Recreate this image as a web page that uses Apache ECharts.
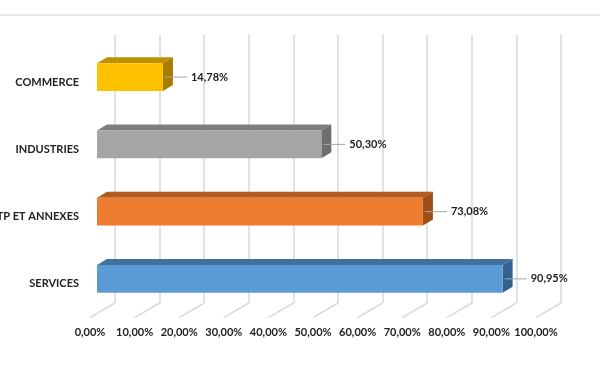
<!DOCTYPE html>
<html>
<head>
<meta charset="utf-8">
<script src="https://cdn.jsdelivr.net/npm/echarts@6/dist/echarts.min.js"></script>
<style>html,body{margin:0;padding:0;background:#fff}#c{width:600px;height:372px}</style>
</head>
<body>
<div id="c"></div>
<script>
const categories = ['COMMERCE', 'INDUSTRIES', 'BTP ET ANNEXES', 'SERVICES'];
const values = [14.78, 50.30, 73.08, 90.95];
const ticks = [0, 10, 20, 30, 40, 50, 60, 70, 80, 90, 100];

const frontColors = ['#FFC000', '#A5A5A5', '#ED7D31', '#5B9BD5'];
const topColors = ['#BF9000', '#7F7F7F', '#B35A20', '#41719C'];
const sideColors = ['#A67D00', '#6E6E6E', '#9C4E1B', '#376290'];

const fmt = v => v.toFixed(2).replace('.', ',') + '%';
const FONT = 'Lato, "Open Sans", sans-serif';
const DX = 10, DY = -6;

const chart = echarts.init(document.getElementById('c'), null, {renderer: 'canvas'});
chart.setOption({
  animation: false,
  backgroundColor: '#fff',
  graphic: [{
    type: 'line', shape: {x1: 0, y1: 15, x2: 600, y2: 15},
    style: {stroke: '#e6e6e6', lineWidth: 2}, silent: true
  }],
  grid: [
    {left: 97, width: 446, top: 43.5, height: 269, outerBoundsMode: 'none', containLabel: false},
    {left: 90, width: 446, top: 49, height: 268, outerBoundsMode: 'none', containLabel: false},
    {left: 115, width: 446, top: 35, height: 268, outerBoundsMode: 'none', containLabel: false}
  ],
  xAxis: [
    {gridIndex: 0, type: 'value', min: 0, max: 100, interval: 10, show: false},
    {gridIndex: 1, type: 'value', min: 0, max: 100, interval: 10,
      axisLine: {show: false}, axisTick: {show: false}, splitLine: {show: false},
      axisLabel: {formatter: fmt, margin: 10, color: '#222', fontFamily: FONT, fontWeight: 'bold', fontSize: 11}},
    {gridIndex: 2, type: 'value', min: 0, max: 100, interval: 10,
      axisLine: {show: false}, axisTick: {show: false}, axisLabel: {show: false},
      splitLine: {show: true, lineStyle: {color: '#d9d9d9', width: 1.5}}}
  ],
  yAxis: [
    {gridIndex: 0, type: 'category', data: categories, inverse: true, show: false},
    {gridIndex: 1, type: 'category', data: categories, inverse: true,
      axisLine: {show: false}, axisTick: {show: false}, splitLine: {show: false},
      axisLabel: {margin: 11, color: '#222', fontFamily: FONT, fontWeight: 'bold', fontSize: 11}},
    {gridIndex: 2, type: 'value', min: 0, max: 1, show: false}
  ],
  series: [
    {
      type: 'custom', xAxisIndex: 2, yAxisIndex: 2, silent: true,
      data: ticks.map(t => [t, 0]),
      renderItem: (params, api) => {
        const p = api.coord([api.value(0), 0]);
        return {type: 'line', shape: {x1: p[0], y1: p[1], x2: p[0] - 25, y2: p[1] + 14.6},
          style: {stroke: '#d9d9d9', lineWidth: 1.5}};
      }
    },
    {
      type: 'custom', xAxisIndex: 0, yAxisIndex: 0, silent: true,
      data: values.map((v, i) => [v, i]),
      renderItem: (params, api) => {
        const v = api.value(0), c = api.value(1);
        const p0 = api.coord([0, c]);
        const p1 = api.coord([v, c]);
        const h = api.size([0, 1])[1] * 0.41;
        const x0 = p0[0], x1 = p1[0];
        const yT = p0[1] - h / 2, yB = p0[1] + h / 2, yM = p0[1];
        const i = params.dataIndex;
        return {
          type: 'group',
          children: [
            {type: 'polygon', shape: {points: [[x0, yT], [x1, yT], [x1 + DX, yT + DY], [x0 + DX, yT + DY]]},
              style: {fill: topColors[i]}},
            {type: 'polygon', shape: {points: [[x1, yT], [x1 + DX, yT + DY], [x1 + DX, yB + DY], [x1, yB]]},
              style: {fill: sideColors[i]}},
            {type: 'rect', shape: {x: x0, y: yT, width: x1 - x0, height: h},
              style: {fill: frontColors[i]}},
            {type: 'line', shape: {x1: x1 + 2, y1: yM, x2: x1 + 24, y2: yM},
              style: {stroke: '#a6a6a6', lineWidth: 1}},
            {type: 'text', style: {x: x1 + 28, y: yM, text: fmt(v), fill: '#222',
              font: 'bold 11px ' + FONT, verticalAlign: 'middle', align: 'left'}}
          ]
        };
      }
    }
  ]
});
</script>
</body>
</html>
